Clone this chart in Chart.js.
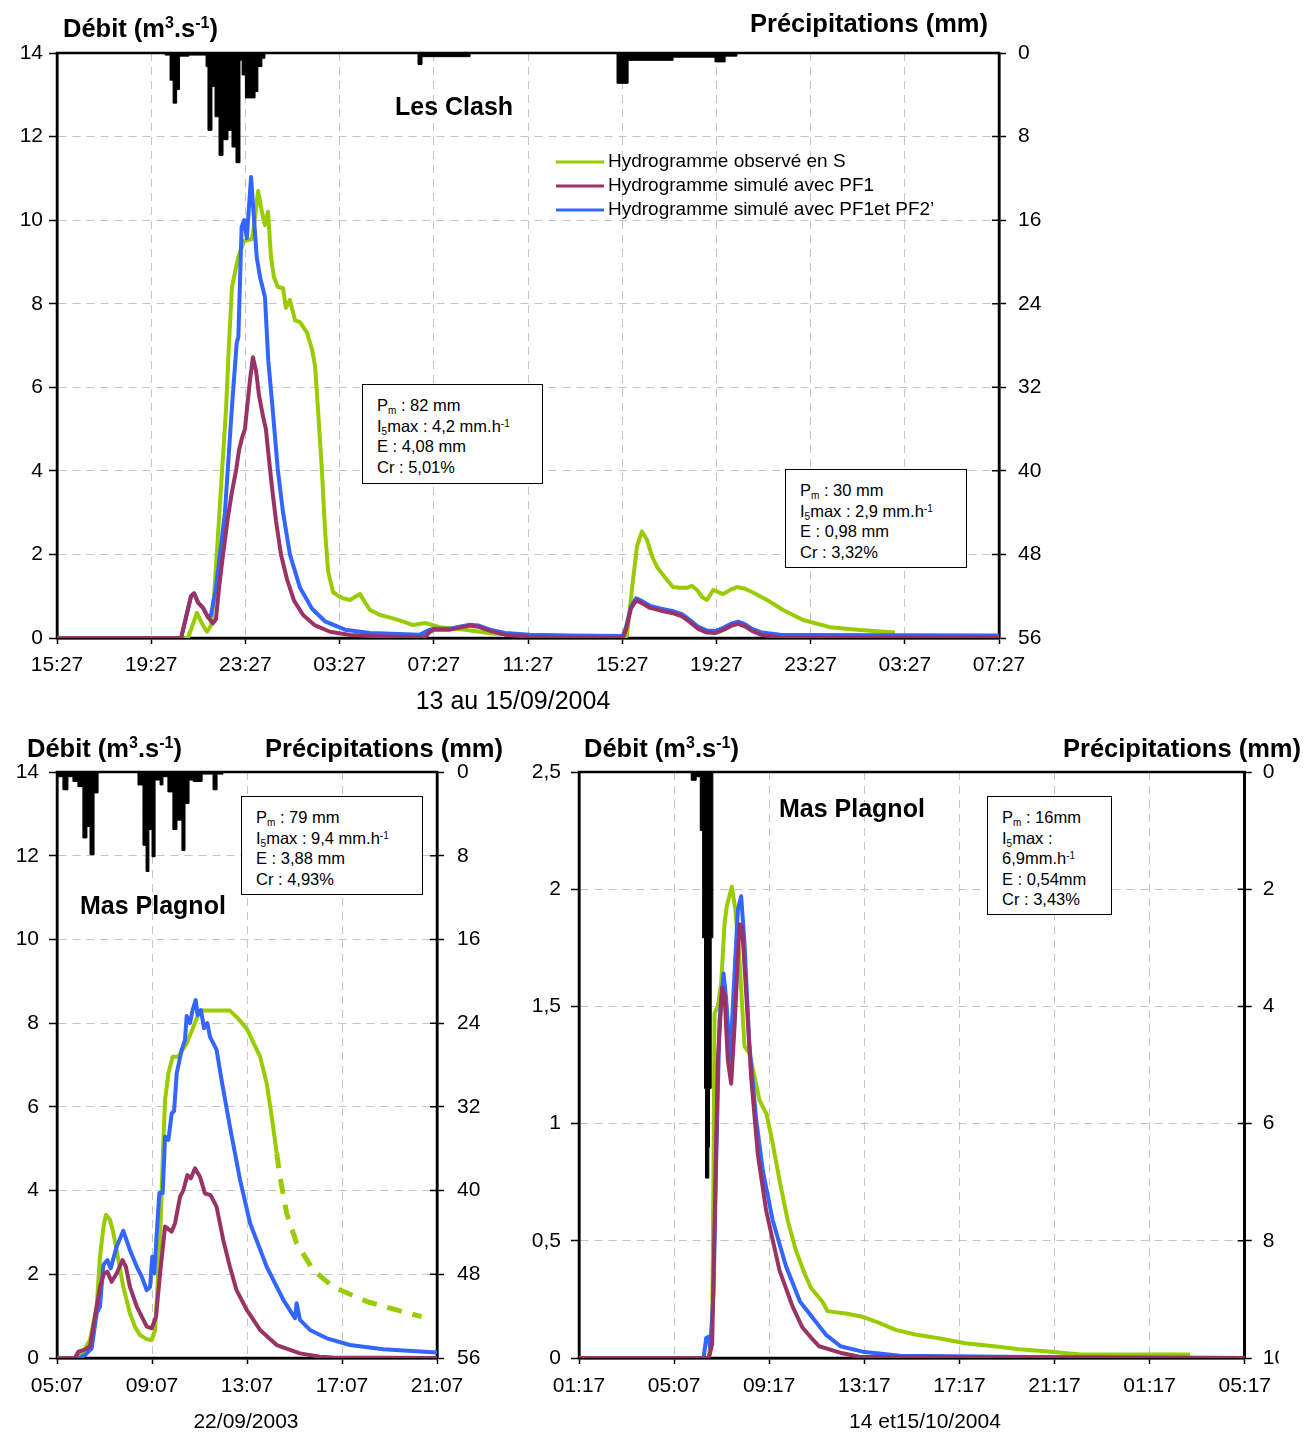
<!DOCTYPE html>
<html lang="fr">
<head>
<meta charset="utf-8">
<title>Hydrogrammes observés et simulés – Les Clash, Mas Plagnol</title>
<script src="https://cdn.jsdelivr.net/npm/chart.js@4.4.1/dist/chart.umd.min.js"></script>
<style>
html,body{margin:0;padding:0;background:#fff;}
#page{position:relative;width:1304px;height:1434px;overflow:hidden;background:#fff;
  font-family:"Liberation Sans",Arial,Helvetica,sans-serif;color:#000;}
canvas{position:absolute;display:block;}
.t{position:absolute;white-space:nowrap;line-height:30px;height:30px;}
.h{font-weight:bold;font-size:25.5px;}
.h sup{font-size:16px;vertical-align:9px;line-height:0;}
.name{font-weight:bold;font-size:25px;}
.xt{font-size:21px;text-align:center;width:300px;}
.xt.big{font-size:25px;width:400px;}
.box{position:absolute;border:1.5px solid #000;background:#fff;box-sizing:border-box;
  font-size:16.5px;line-height:20.5px;padding:10px 0 0 14px;white-space:nowrap;}
.box sub{font-size:10px;vertical-align:-3px;line-height:0;}
.box sup{font-size:10px;vertical-align:5px;line-height:0;}
</style>
</head>
<body>
<div id="page">
  <canvas id="clash"></canvas>
  <canvas id="plagnolSep"></canvas>
  <canvas id="plagnolOct"></canvas>

  <!-- Les Clash, 13-15/09/2004 -->
  <div class="t h" style="left:63px;top:13px">Débit (m<sup>3</sup>.s<sup>-1</sup>)</div>
  <div class="t h" style="right:316px;top:8px">Précipitations (mm)</div>
  <div class="t name" style="left:395px;top:91px">Les Clash</div>
  <div class="box" style="left:362px;top:384px;width:181px;height:100px">P<sub>m</sub> : 82 mm<br>I<sub>5</sub>max : 4,2 mm.h<sup>-1</sup><br>E : 4,08 mm<br>Cr : 5,01%</div>
  <div class="box" style="left:785px;top:469px;width:182px;height:99px">P<sub>m</sub> : 30 mm<br>I<sub>5</sub>max : 2,9 mm.h<sup>-1</sup><br>E : 0,98 mm<br>Cr : 3,32%</div>
  <div class="t xt big" style="left:313px;top:685px">13 au 15/09/2004</div>

  <!-- Mas Plagnol, 22/09/2003 -->
  <div class="t h" style="left:27px;top:733px">Débit (m<sup>3</sup>.s<sup>-1</sup>)</div>
  <div class="t h" style="right:801px;top:733px">Précipitations (mm)</div>
  <div class="t name" style="left:80px;top:890px">Mas Plagnol</div>
  <div class="box" style="left:241px;top:796px;width:182px;height:99px">P<sub>m</sub> : 79 mm<br>I<sub>5</sub>max : 9,4 mm.h<sup>-1</sup><br>E : 3,88 mm<br>Cr : 4,93%</div>
  <div class="t xt" style="left:96px;top:1406px">22/09/2003</div>

  <!-- Mas Plagnol, 14-15/10/2004 -->
  <div class="t h" style="left:584px;top:733px">Débit (m<sup>3</sup>.s<sup>-1</sup>)</div>
  <div class="t h" style="right:3px;top:733px">Précipitations (mm)</div>
  <div class="t name" style="left:779px;top:793px">Mas Plagnol</div>
  <div class="box" style="left:987px;top:796px;width:125px;height:119px">P<sub>m</sub> : 16mm<br>I<sub>5</sub>max :<br>6,9mm.h<sup>-1</sup><br>E : 0,54mm<br>Cr : 3,43%</div>
  <div class="t xt" style="left:775px;top:1406px">14 et15/10/2004</div>
</div>

<script>
// ---------- series names ----------
const seriesLabels = [
  'Hydrogramme observé en S',
  'Hydrogramme simulé avec PF1',
  'Hydrogramme simulé avec PF1et PF2\u2019'
];

// ---------- Les Clash : hours after 13/09 15:27 ----------
const clashTicks = ['15:27','19:27','23:27','03:27','07:27','11:27','15:27','19:27','23:27','03:27','07:27'];
// rainfall steps [start hour, mm] – each depth holds until the next start
const clashRain = [[0,0],[4.59,0.2],[4.80,2.6],[4.93,4.8],[5.08,3.5],[5.20,0.3],[5.60,0.2],[6.33,1.3],[6.41,7.4],
  [6.58,3.2],[6.71,6.1],[6.88,9.8],[7.05,8.3],[7.26,7.4],[7.43,9.0],[7.60,10.5],[7.77,0.7],[7.86,2.1],[8.00,4.3],
  [8.41,3.7],[8.53,1.3],[8.70,0.5],[8.83,0],[15.33,1.1],[15.50,0.35],[17.54,0],[23.78,2.9],[24.25,0.7],[26.16,0.4],
  [27.94,0.85],[28.37,0.3],[28.87,0],[40,0]];
// discharge [hour, m3/s]
const clashObs = [[0,0],[5.56,0],[5.94,0.6],[6.2,0.3],[6.37,0.15],[6.54,0.3],[6.67,1.0],[6.84,2.5],[7.01,4.0],[7.18,5.5],
  [7.30,7.0],[7.43,8.4],[7.69,9.1],[7.94,9.5],[8.28,9.55],[8.37,9.9],[8.54,10.7],[8.70,10.2],[8.83,9.88],[8.96,10.2],
  [9.09,9.1],[9.21,8.64],[9.38,8.4],[9.60,8.37],[9.72,7.9],[9.89,8.09],[10.11,7.6],[10.32,7.56],[10.62,7.3],[10.83,6.9],
  [10.96,6.5],[11.08,5.5],[11.25,4.0],[11.38,2.6],[11.51,1.6],[11.72,1.1],[11.89,1.03],[12.14,0.95],[12.44,0.91],
  [12.70,1.0],[12.87,1.05],[13.08,0.85],[13.29,0.67],[13.72,0.55],[14.27,0.47],[14.78,0.38],[15.12,0.31],[15.63,0.36],
  [16.26,0.26],[17.41,0.19],[18.51,0.11],[19.66,0.07],[21.36,0.05],[23.99,0.04],[24.20,0.05],[24.42,1.2],[24.63,2.2],
  [24.84,2.55],[25.05,2.35],[25.27,1.95],[25.48,1.7],[25.61,1.6],[25.90,1.39],[26.16,1.22],[26.45,1.2],[26.75,1.2],
  [26.96,1.25],[27.18,1.15],[27.39,0.98],[27.60,0.91],[27.86,1.15],[28.28,1.05],[28.58,1.15],[28.87,1.22],[29.21,1.18],
  [29.51,1.1],[30.15,0.91],[30.83,0.67],[31.68,0.43],[32.82,0.26],[34.10,0.19],[35.58,0.13]];
const clashPf1 = [[0,0],[5.27,0],[5.48,0.5],[5.69,1.0],[5.82,1.07],[5.99,0.85],[6.20,0.72],[6.41,0.5],[6.62,0.35],
  [6.75,0.45],[6.88,1.2],[7.05,2.0],[7.26,2.9],[7.43,3.5],[7.60,4.0],[7.73,4.5],[7.86,4.8],[7.98,5.0],[8.07,5.5],
  [8.20,6.2],[8.32,6.72],[8.45,6.4],[8.58,5.8],[8.75,5.3],[8.87,5.0],[8.96,4.5],[9.13,3.6],[9.30,2.8],[9.51,2.0],
  [9.77,1.4],[10.06,0.9],[10.45,0.55],[10.96,0.3],[11.59,0.15],[12.44,0.07],[13.72,0.04],[15.63,0.02],[15.84,0.15],
  [16.01,0.2],[16.69,0.2],[17.20,0.26],[17.54,0.3],[17.88,0.27],[18.39,0.17],[19.02,0.08],[20.08,0.03],[21.78,0.01],
  [24.03,0],[24.16,0.2],[24.37,0.7],[24.59,0.9],[24.88,0.82],[25.18,0.72],[25.61,0.66],[26.11,0.6],[26.54,0.52],
  [26.88,0.38],[27.22,0.22],[27.60,0.13],[27.98,0.12],[28.32,0.2],[28.66,0.3],[28.92,0.34],[29.21,0.28],[29.51,0.17],
  [29.94,0.07],[30.70,0.02],[40,0.01]];
const clashPf12 = [[0,0],[5.27,0],[5.48,0.5],[5.69,1.0],[5.82,1.07],[5.99,0.85],[6.20,0.72],[6.41,0.5],[6.54,0.55],
  [6.62,0.8],[6.75,1.2],[6.92,2.0],[7.13,3.0],[7.42,5.46],[7.63,7.06],[7.70,7.2],[7.84,9.84],[7.95,10.0],[8.06,9.57],
  [8.24,11.03],[8.48,9.12],[8.62,8.64],[8.83,8.16],[8.97,6.65],[9.16,5.46],[9.38,4.0],[9.60,3.0],[9.89,2.0],[10.32,1.2],
  [10.83,0.7],[11.38,0.4],[12.23,0.2],[13.29,0.12],[15.41,0.08],[15.84,0.2],[16.01,0.22],[16.69,0.22],[17.20,0.28],
  [17.54,0.32],[17.88,0.3],[18.39,0.2],[19.02,0.12],[20.08,0.08],[21.78,0.06],[24.03,0.05],[24.16,0.25],[24.37,0.75],
  [24.59,0.95],[24.88,0.87],[25.18,0.77],[25.61,0.71],[26.11,0.65],[26.54,0.57],[26.88,0.43],[27.22,0.27],[27.60,0.18],
  [27.98,0.17],[28.32,0.25],[28.66,0.35],[28.92,0.39],[29.21,0.33],[29.51,0.22],[29.94,0.13],[30.70,0.08],[32,0.07],[40,0.06]];

// ---------- Mas Plagnol 22/09/2003 : hours after 05:07 ----------
const sepTicks = ['05:07','09:07','13:07','17:07','21:07'];
const sepRain = [[0,0],[0.01,0.45],[0.25,1.7],[0.46,0.45],[0.67,0.9],[0.88,1.4],[1.09,6.3],[1.26,5.2],[1.39,7.9],[1.56,2.0],
  [1.73,0],[3.41,1.24],[3.62,7.0],[3.75,9.5],[3.87,5.5],[4.0,8.1],[4.13,0.77],[4.34,1.24],[4.46,0.45],[4.67,1.9],
  [4.88,5.5],[5.05,4.6],[5.26,7.5],[5.39,3.0],[5.56,0.77],[5.73,0.9],[6.11,0.2],[6.57,1.7],[6.74,0.2],[6.99,0],[16,0]];
const sepObs = [[0,0],[0.84,0],[1.1,0.15],[1.39,0.43],[1.67,1.23],[1.81,2.42],[1.95,3.1],[2.06,3.42],[2.23,3.3],
  [2.37,3.0],[2.51,2.58],[2.79,1.7],[3.07,1.07],[3.28,0.75],[3.49,0.55],[3.78,0.45],[3.99,0.43],[4.13,0.67],[4.34,2.82],
  [4.48,5.21],[4.55,6.16],[4.69,6.8],[4.87,7.2],[5.11,7.2],[5.46,7.52],[5.74,7.91],[6.02,8.3],[7.28,8.3],[7.56,8.15],
  [7.99,7.87],[8.55,7.2],[8.83,6.56],[9.04,5.77],[9.25,4.89],[9.39,4.33],[9.67,3.46],[10.09,2.74],[10.79,2.1],
  [11.63,1.7],[13.04,1.35],[14.72,1.08],[15.35,0.99]];
const sepObsDashedFrom = 9.25;   // reconstructed part of the observed hydrograph
const sepPf1 = [[0,0],[0.76,0],[0.9,0.15],[1.18,0.2],[1.39,0.28],[1.6,0.99],[1.81,1.7],[1.98,2.02],[2.12,2.06],
  [2.3,1.82],[2.51,2.02],[2.76,2.34],[2.9,2.18],[3.07,1.7],[3.36,1.23],[3.78,0.75],[3.99,0.71],[4.17,0.99],[4.34,2.02],
  [4.55,3.14],[4.83,3.02],[4.97,3.22],[5.18,3.85],[5.32,4.01],[5.49,4.37],[5.63,4.29],[5.81,4.53],[6.02,4.33],
  [6.23,3.93],[6.47,3.89],[6.72,3.61],[7.0,2.82],[7.28,2.18],[7.56,1.62],[7.99,1.15],[8.55,0.67],[9.25,0.31],
  [10.23,0.11],[11.07,0.03],[11.6,0.01],[16,0]];
const sepPf12 = [[0,0],[0.97,0],[1.18,0.07],[1.46,0.23],[1.67,1.07],[1.81,1.23],[1.95,2.22],[2.12,2.34],[2.26,2.14],
  [2.51,2.66],[2.79,3.04],[3.07,2.58],[3.36,2.18],[3.57,1.94],[3.78,1.62],[3.92,1.7],[4.01,2.42],[4.1,2.02],[4.2,2.98],
  [4.31,3.94],[4.45,3.94],[4.55,5.29],[4.69,5.21],[4.83,5.85],[4.93,5.9],[5.04,6.8],[5.25,7.36],[5.39,7.6],[5.46,8.17],
  [5.6,8.0],[5.71,8.31],[5.84,8.55],[5.92,8.19],[6.06,8.31],[6.19,7.88],[6.33,8.0],[6.44,7.68],[6.72,7.36],[6.93,6.64],
  [7.28,5.53],[7.71,4.25],[8.13,3.22],[8.83,2.18],[9.53,1.39],[10.02,0.95],[10.09,1.31],[10.23,0.91],[10.65,0.67],
  [11.36,0.47],[12.34,0.31],[13.74,0.21],[16,0.13]];

// ---------- Mas Plagnol 14-15/10/2004 : hours after 01:17 ----------
const octTicks = ['01:17','05:07','09:17','13:17','17:17','21:17','01:17','05:17'];
const octRain = [[0,0],[4.72,0.14],[4.93,0.08],[5.10,1.0],[5.20,2.83],[5.28,5.4],[5.32,6.93],[5.46,6.4],[5.49,5.4],
  [5.56,2.83],[5.63,0],[28,0]];
const octObs = [[0,0],[5.46,0],[5.6,0.13],[5.66,0.84],[5.7,1.47],[5.84,1.5],[5.98,1.6],[6.12,1.85],[6.22,1.93],
  [6.43,2.01],[6.58,1.91],[6.75,1.7],[6.96,1.33],[7.17,1.3],[7.38,1.2],[7.59,1.1],[7.89,1.04],[8.14,0.92],[8.43,0.76],
  [8.77,0.59],[9.12,0.46],[9.45,0.37],[9.75,0.3],[10.24,0.24],[10.45,0.2],[11.22,0.19],[11.92,0.176],[12.62,0.15],
  [13.32,0.12],[14.15,0.1],[15.13,0.084],[16.25,0.063],[17.65,0.048],[18.49,0.037],[19.5,0.03],[21.1,0.015],[25.7,0.015]];
const octPf1 = [[0,0],[5.46,0],[5.6,0.06],[5.7,0.56],[5.84,1.27],[6.02,1.58],[6.12,1.55],[6.26,1.27],[6.4,1.17],
  [6.54,1.41],[6.75,1.85],[6.86,1.84],[7.03,1.56],[7.24,1.2],[7.52,0.87],[7.87,0.63],[8.43,0.375],[8.98,0.22],
  [9.4,0.13],[9.82,0.08],[10.1,0.05],[11.08,0.02],[11.8,0.005],[28,0]];
const octPf12 = [[0,0],[5.24,0],[5.35,0.085],[5.45,0.09],[5.52,0.04],[5.66,0.28],[5.77,0.84],[5.91,1.44],[6.08,1.64],
  [6.19,1.53],[6.36,1.27],[6.5,1.56],[6.68,1.91],[6.82,1.97],[6.96,1.77],[7.17,1.33],[7.45,1.02],[7.73,0.8],[8.14,0.59],
  [8.71,0.39],[9.3,0.24],[10.38,0.1],[11.0,0.05],[11.92,0.027],[13.5,0.01],[20,0.003],[28,0]];

// ---------- drawing ----------
const FONT = '"Liberation Sans", Arial, Helvetica, sans-serif';
Chart.defaults.font.family = FONT;
Chart.defaults.font.size = 21;
Chart.defaults.color = '#000';

const C_OBS = '#99CC00', C_PF1 = '#993366', C_PF12 = '#3366FF';
const GRID = '#c4c4c4', DASH = [8, 6];

const pts = arr => arr.map(p => ({x: p[0], y: p[1]}));
const comma = v => String(Math.round(v * 10) / 10).replace('.', ',');

// black frame round the plotting area + inner half of rainfall-axis ticks
const framePlugin = {
  id: 'frame',
  beforeDatasetsDraw(chart) {
    const {ctx, chartArea: a, scales} = chart;
    ctx.save();
    ctx.strokeStyle = '#000';
    ctx.lineWidth = 2.5;
    ctx.strokeRect(a.left, a.top, a.right - a.left, a.bottom - a.top);
    const r = scales.y2;
    ctx.lineWidth = 1.5;
    ctx.beginPath();
    r.ticks.forEach(t => {
      const p = r.getPixelForValue(t.value);
      ctx.moveTo(a.right - 7, p);
      ctx.lineTo(a.right, p);
    });
    ctx.stroke();
    ctx.restore();
  }
};

// legend drawn inside the plotting area from the dataset labels/colours
const insideLegend = {
  id: 'insideLegend',
  afterDatasetsDraw(chart, args, opts) {
    if (!opts || !opts.rows) return;
    const ctx = chart.ctx;
    const sets = chart.data.datasets.filter(d => d.yAxisID !== 'y2');
    ctx.save();
    ctx.font = opts.font;
    ctx.textBaseline = 'middle';
    ctx.fillStyle = '#000';
    sets.forEach((d, i) => {
      const y = opts.rows[i];
      ctx.strokeStyle = d.borderColor;
      ctx.lineWidth = 3;
      ctx.beginPath();
      ctx.moveTo(opts.x0, y);
      ctx.lineTo(opts.x1, y);
      ctx.stroke();
      ctx.fillText(d.label, opts.tx, y);
    });
    ctx.restore();
  }
};

function flowSets(obs, pf1, pf12, rain, obsExtra) {
  return [
    Object.assign({label: seriesLabels[0], data: pts(obs), borderColor: C_OBS, order: 3, yAxisID: 'y'}, obsExtra || {}),
    {label: seriesLabels[1], data: pts(pf1), borderColor: C_PF1, order: 1, yAxisID: 'y'},
    {label: seriesLabels[2], data: pts(pf12), borderColor: C_PF12, order: 2, yAxisID: 'y'},
    // hyetograph hanging from the top: each depth is held until the next start time
    {label: 'Précipitations', data: pts(rain), yAxisID: 'y2', stepped: 'before', fill: 'origin',
     borderColor: '#000', backgroundColor: '#000', borderWidth: 1, order: 5}
  ];
}

function buildPanel(id, geo, spec) {
  const cv = document.getElementById(id);
  cv.width = geo.w; cv.height = geo.h;
  Object.assign(cv.style, {left: geo.x + 'px', top: geo.y + 'px', width: geo.w + 'px', height: geo.h + 'px'});
  const a = geo.area;
  return new Chart(cv, {
    type: 'line',
    data: {datasets: spec.datasets},
    options: {
      responsive: false, animation: false, devicePixelRatio: 1, events: [],
      layout: {padding: {top: a.top, left: 0, right: 0, bottom: 0}},
      elements: {
        point: {radius: 0},
        line: {tension: 0, borderWidth: 4, borderJoinStyle: 'round', fill: false}
      },
      plugins: {
        legend: {display: false}, tooltip: {enabled: false},
        insideLegend: spec.legend || false
      },
      scales: {
        x: {
          type: 'linear', position: 'bottom', min: 0, max: spec.xMax,
          afterFit: s => { s.height = geo.h - a.bottom; },
          ticks: {stepSize: 4, autoSkip: false, maxRotation: 0, padding: spec.xPad,
                  callback: (v, i) => spec.xTicks[i] ?? ''},
          grid: {color: GRID, tickColor: '#000', tickLength: 6, tickWidth: 1.5, tickBorderDash: []},
          border: {display: true, color: '#000', width: 2.5, dash: DASH}
        },
        y: {
          type: 'linear', position: 'left', min: 0, max: spec.yMax,
          afterFit: s => { s.width = a.left; },
          ticks: {stepSize: spec.yStep, padding: spec.yPad, callback: v => comma(v)},
          grid: {color: GRID, tickColor: '#000', tickLength: 8, tickWidth: 1.5, tickBorderDash: []},
          border: {display: true, color: '#000', width: 2.5, dash: DASH}
        },
        y2: {
          type: 'linear', position: 'right', min: 0, max: spec.rMax, reverse: true,
          afterFit: s => { s.width = geo.w - a.right; },
          ticks: {stepSize: spec.rStep, padding: spec.rPad, callback: v => comma(v)},
          grid: {drawOnChartArea: false, color: '#000', tickColor: '#000', tickLength: 7, tickWidth: 1.5},
          border: {display: true, color: '#000', width: 2.5}
        }
      }
    },
    plugins: [framePlugin, insideLegend]
  });
}

buildPanel('clash', {x: 0, y: 0, w: 1304, h: 720, area: {left: 57, top: 53, right: 999, bottom: 638}}, {
  datasets: flowSets(clashObs, clashPf1, clashPf12, clashRain),
  xMax: 40, xTicks: clashTicks, xPad: 9,
  yMax: 14, yStep: 2, yPad: 6,
  rMax: 56, rStep: 8, rPad: 12,
  legend: {x0: 556, x1: 604, tx: 608, rows: [162, 186, 210], font: '19px ' + FONT}
});

buildPanel('plagnolSep', {x: 0, y: 720, w: 520, h: 714, area: {left: 57, top: 52, right: 437, bottom: 638}}, {
  datasets: flowSets(sepObs, sepPf1, sepPf12, sepRain, {
    segment: {
      borderDash: ctx => ctx.p0.parsed.x >= sepObsDashedFrom ? [15, 11] : undefined,
      borderWidth: ctx => ctx.p0.parsed.x >= sepObsDashedFrom ? 5 : undefined
    }
  }),
  xMax: 16, xTicks: sepTicks, xPad: 10,
  yMax: 14, yStep: 2, yPad: 10,
  rMax: 56, rStep: 8, rPad: 13
});

buildPanel('plagnolOct', {x: 520, y: 720, w: 761, h: 714, area: {left: 59, top: 52, right: 727, bottom: 638}}, {
  datasets: flowSets(octObs, octPf1, octPf12, octRain),
  xMax: 28, xTicks: octTicks, xPad: 10,
  yMax: 2.5, yStep: 0.5, yPad: 10,
  rMax: 10, rStep: 2, rPad: 11
});
</script>
</body>
</html>
